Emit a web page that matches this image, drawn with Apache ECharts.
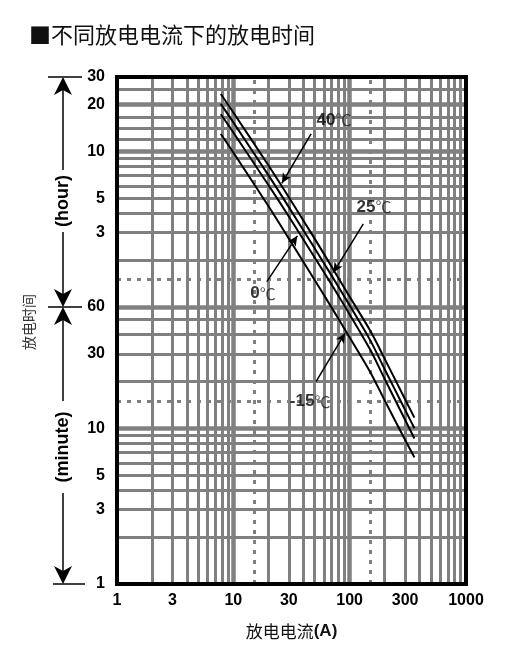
<!DOCTYPE html>
<html>
<head>
<meta charset="utf-8">
<script src="https://cdn.jsdelivr.net/npm/echarts@6/dist/echarts.min.js"></script>
<style>
  html, body { margin: 0; padding: 0; background: #fff; }
  #chart { width: 531px; height: 661px; }
</style>
</head>
<body>
<div id="chart"></div>
<script>
// 放电电流 (A)
const currents = [7.8, 10, 20, 30, 50, 70, 100, 150, 200, 300, 360];
// 放电时间 (min)，按温度
const time40 = [1400, 1066, 488, 304, 165, 109, 69.8, 42.4, 27.9, 15.3, 11.7];
const time25 = [1210, 920, 422, 263, 143, 95.5, 61.5, 36.8, 23.9, 13.1, 10.0];
const time0 = [1037, 792, 365, 229, 125, 83.6, 53.8, 32.0, 20.7, 11.3, 8.6];
const timeM15 = [775, 590, 267, 165, 89.5, 59.5, 38.3, 23.0, 15.1, 8.4, 6.5];

// 坐标刻度
const xLabels = [1, 3, 10, 30, 100, 300, 1000];
const yLabels = [1, 3, 5, 10, 30, 60, 180, 300, 600, 1200, 1800]; // 分钟
// 网格线
const xGridMinor = [2, 3, 4, 5, 6, 7, 8, 9, 20, 30, 40, 50, 60, 70, 80, 90, 200, 300, 400, 500, 600, 700, 800, 900];
const xGridMajor = [10, 100];
const xGridDotted = [15, 150];
const yGridMinor = [2, 3, 4, 5, 6, 7, 8, 9, 20, 30, 40, 50, 120, 180, 240, 300, 360, 420, 480, 540, 720, 840, 1000, 1500];
const yGridMajor = [10, 60, 600, 1200];
const yGridDotted = [15, 90];

// 温度标注: [文字, 文字位置, 箭头起点, 箭头终点]
const notes = [
  ['40', [73.4, 955], [46.6, 776], [26.1, 374]],
  ['25', [162, 262], [131, 205], [72.4, 99.9]],
  ['0', [18.0, 73.4], [19.4, 87.4], [35.5, 172]],
  ['-15', [45.7, 14.8], [51.4, 19.9], [91.3, 40.8]],
];

const chart = echarts.init(document.getElementById('chart'));

const gridLine = (axis, v, width, dotted) => ({
  [axis]: v,
  lineStyle: { color: '#808080', width, type: dotted ? [4, 6] : 'solid' },
});

const gridMarks = [
  ...xGridMinor.map(v => gridLine('xAxis', v, 3)),
  ...xGridMajor.map(v => gridLine('xAxis', v, 4.5)),
  ...xGridDotted.map(v => gridLine('xAxis', v, 3, true)),
  ...yGridMinor.map(v => gridLine('yAxis', v, 3)),
  ...yGridMajor.map(v => gridLine('yAxis', v, 4.5)),
  ...yGridDotted.map(v => gridLine('yAxis', v, 3, true)),
];

const curve = (name, values) => ({
  name,
  type: 'line',
  z: 5,
  data: currents.map((c, i) => [c, values[i]]),
  smooth: 0.3,
  symbol: 'none',
  lineStyle: { color: '#000', width: 2 },
});

const labelFont = { fontFamily: 'Liberation Sans', fontWeight: 'bold', fontSize: 16, color: '#000' };

chart.setOption({
  animation: false,
  title: {
    text: '■不同放电电流下的放电时间',
    left: 24,
    top: 19,
    textStyle: { fontFamily: 'Noto Sans CJK SC', fontWeight: 'normal', fontSize: 22, color: '#111' },
  },
  grid: { left: 117, right: 65, top: 77, bottom: 77 },
  xAxis: {
    type: 'log',
    min: 1,
    max: 1000,
    axisLine: { show: false },
    axisTick: { show: false },
    splitLine: { show: false },
    axisLabel: { customValues: xLabels, margin: 9, formatter: v => String(v), ...labelFont },
    name: '{c|放电电流}{b|(A)}',
    nameLocation: 'middle',
    nameGap: 39,
    nameTextStyle: {
      rich: {
        c: { fontFamily: 'Noto Sans CJK SC', fontSize: 17, color: '#111' },
        b: { fontFamily: 'Liberation Sans', fontWeight: 'bold', fontSize: 17, color: '#111' },
      },
    },
  },
  yAxis: {
    type: 'log',
    min: 1,
    max: 1800,
    axisLine: { show: false },
    axisTick: { show: false },
    splitLine: { show: false },
    axisLabel: {
      customValues: yLabels,
      margin: 12,
      formatter: v => String(v > 60 ? Math.round(v / 60) : Math.round(v)),
      ...labelFont,
    },
  },
  series: [
    {
      name: 'grid',
      type: 'line',
      z: 1,
      data: [[1, 1]],
      symbol: 'none',
      lineStyle: { width: 0 },
      markLine: {
        silent: true,
        z: 1,
        symbol: ['none', 'none'],
        label: { show: false },
        data: gridMarks,
      },
    },
    curve('40℃', time40),
    curve('25℃', time25),
    curve('0℃', time0),
    curve('-15℃', timeM15),
    {
      name: 'notes',
      type: 'scatter',
      z: 6,
      symbolSize: 0,
      data: notes.map(n => ({ value: n[1], name: n[0] })),
      label: {
        show: true,
        position: 'inside',
        formatter: p => `{b|${p.name}}{c|℃}`,
        rich: {
          b: { fontFamily: 'Liberation Sans', fontWeight: 'bold', fontSize: 17, color: '#000' },
          c: { fontFamily: 'Noto Sans CJK SC', fontSize: 16, color: '#222' },
        },
      },
      markLine: {
        silent: true,
        z: 6,
        symbol: ['none', 'arrow'],
        symbolSize: [7, 10],
        label: { show: false },
        lineStyle: { color: '#000', width: 1.5, type: 'solid' },
        data: notes.map(n => [{ coord: n[2] }, { coord: n[3] }]),
      },
    },
  ],
});

// 左侧 hour / minute 双箭头和外框
const yPx = v => chart.convertToPixel({ yAxisIndex: 0 }, v);
const xPx = v => chart.convertToPixel({ xAxisIndex: 0 }, v);
const yTop = yPx(1800), yMid = yPx(60), yBot = yPx(1);
const xLeft = xPx(1), xRight = xPx(1000);
const ax = 63;
const black = { stroke: '#000', lineWidth: 1.5 };
const seg = (x1, y1, x2, y2) => ({ type: 'line', shape: { x1, y1, x2, y2 }, style: black });
const head = (y, dir) => ({
  type: 'polygon',
  shape: { points: [[ax, y], [ax - 9, y + dir * 18], [ax, y + dir * 13], [ax + 9, y + dir * 18]] },
  style: { fill: '#000' },
});
const vtext = (text, y, size) => ({
  type: 'text',
  x: ax,
  y,
  rotation: Math.PI / 2,
  style: { text, fill: '#000', font: `bold ${size}px "Liberation Sans"`, align: 'center', verticalAlign: 'middle' },
});

chart.setOption({
  graphic: [
    seg(48, yTop, 82, yTop),
    seg(48, yMid, 82, yMid),
    seg(53, yBot, 85, yBot),
    seg(ax, yTop + 10, ax, 170),
    seg(ax, 232, ax, yMid - 10),
    seg(ax, yMid + 10, ax, 401),
    seg(ax, 493, ax, yBot - 10),
    head(yTop, 1),
    head(yMid, -1),
    head(yMid, 1),
    head(yBot, -1),
    vtext('(hour)', 201, 18),
    vtext('(minute)', 447, 18),
    {
      type: 'text',
      x: 29,
      y: 322,
      rotation: Math.PI / 2,
      style: { text: '放电时间', fill: '#333', font: '14px "Noto Sans CJK SC"', align: 'center', verticalAlign: 'middle' },
    },
    {
      type: 'rect',
      z: 100,
      shape: { x: xLeft, y: yTop, width: xRight - xLeft, height: yBot - yTop },
      style: { fill: 'none', stroke: '#000', lineWidth: 4 },
    },
  ],
});
</script>
</body>
</html>
